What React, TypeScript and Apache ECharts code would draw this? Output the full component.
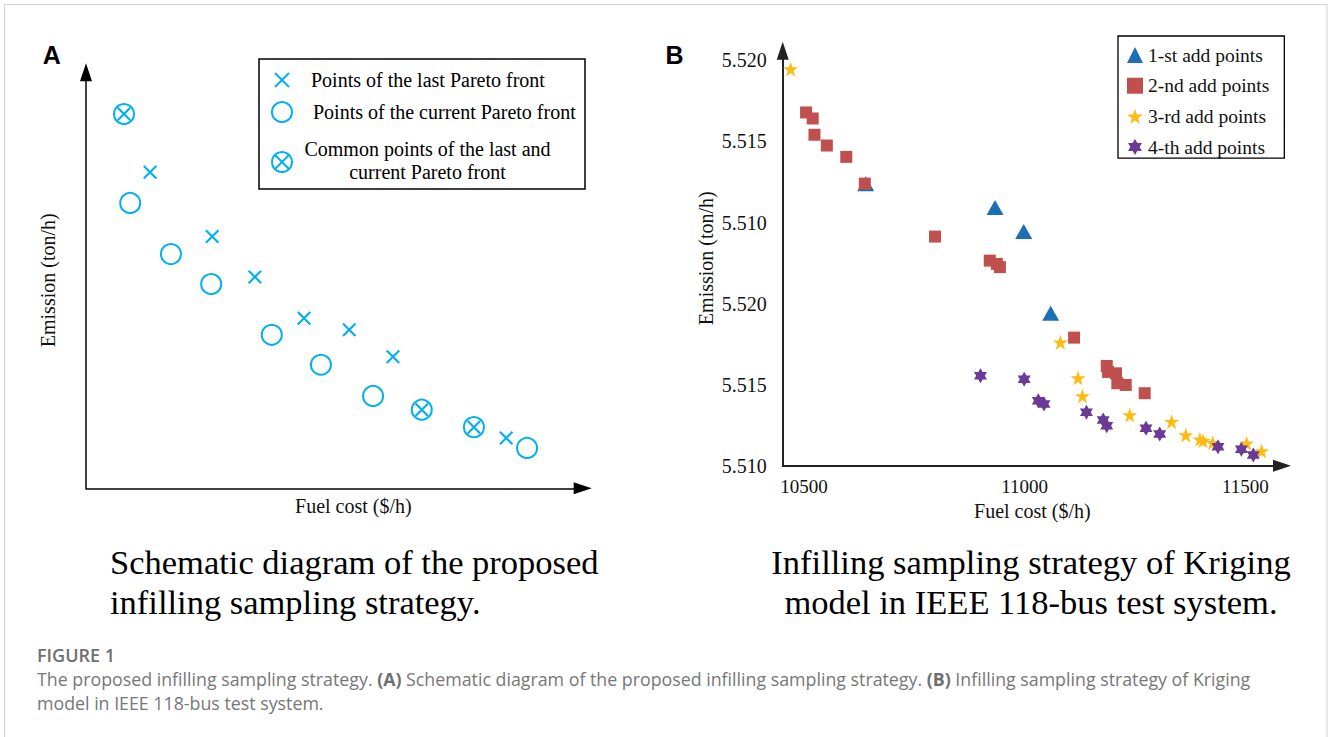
import React, { useEffect, useRef } from "react";
import * as echarts from "echarts";

// ---------- Panel A (schematic, abstract units 0-100) ----------
const lastFrontX = [12.9, 25.4, 34.0, 43.9, 53.0, 61.8, 84.6];
const lastFrontY = [76.0, 60.5, 50.8, 40.9, 38.1, 31.6, 12.1];
const currentFrontX = [8.9, 17.1, 25.2, 37.4, 47.3, 57.8, 88.8];
const currentFrontY = [68.6, 56.3, 49.1, 36.9, 29.7, 22.2, 9.7];
const commonX = [7.65, 67.6, 78.1];
const commonY = [89.97, 18.9, 14.7];

// ---------- Panel B (Kriging infill points) ----------
const xTickValues = [10500, 11000, 11500];
const yTickPositions = [0, 1, 2, 3, 4, 5];
const yTickLabels = ["5.510", "5.515", "5.520", "5.510", "5.515", "5.520"];

const firstAddX = [10640, 10933, 10998, 11059];
const firstAddY = [3.48, 3.185, 2.89, 1.88];
const secondAddX = [10505, 10520, 10524, 10552, 10596, 10638, 10797, 10921, 10937, 10944, 11112, 11186, 11189, 11207, 11210, 11229, 11272];
const secondAddY = [4.358, 4.284, 4.083, 3.95, 3.81, 3.48, 2.827, 2.53, 2.49, 2.45, 1.58, 1.23, 1.157, 1.14, 1.017, 0.996, 0.894];
const thirdAddX = [10470, 11081, 11121, 11131, 11238, 11333, 11365, 11397, 11404, 11426, 11503, 11537];
const thirdAddY = [4.894, 1.523, 1.083, 0.86, 0.626, 0.543, 0.379, 0.326, 0.309, 0.284, 0.276, 0.181];
const fourthAddX = [10900, 10999, 11031, 11044, 11140, 11178, 11186, 11275, 11306, 11438, 11491, 11518];
const fourthAddY = [1.111, 1.067, 0.8, 0.762, 0.659, 0.564, 0.494, 0.462, 0.391, 0.235, 0.202, 0.132];

const seriesNamesB = ["1-st add points", "2-nd add points", "3-rd add points", "4-th add points"];

const zip = (xs: number[], ys: number[]) => xs.map((x, i) => [x, ys[i]]);

const CYAN = "#00b0f0";
const BLUE = "#1c6fb7";
const RED = "#c0504d";
const GOLD = "#ffbb12";
const PURPLE = "#6b3a96";
const SERIF = "'Liberation Serif', 'Times New Roman', serif";
const SANS = "'Open Sans', 'Liberation Sans', sans-serif";

const CROSS = "path://M0,1.5L1.5,0L14,12.5L12.5,14Z M12.5,0L14,1.5L1.5,14L0,12.5Z";
const STAR = "path://M0,-50L11.23,-15.45L47.55,-15.45L18.16,5.9L29.39,40.45L0,19.1L-29.39,40.45L-18.16,5.9L-47.55,-15.45L-11.23,-15.45Z";
const HEXAGRAM = "path://M0,-50L14.43,-25L43.3,-25L28.87,0L43.3,25L14.43,25L0,50L-14.43,25L-43.3,25L-28.87,0L-43.3,-25L-14.43,-25Z";

const arrowLine = (color: string, width: number) => ({
  show: true,
  onZero: false,
  symbol: ["none", "triangle"],
  symbolSize: [12, 18],
  lineStyle: { color, width },
});

const nameStyle = { fontFamily: SERIF, fontSize: 20, color: "#111" };

const text = (t: string, x: number, y: number, size: number, opts: any = {}) => ({
  type: "text",
  x,
  y,
  silent: true,
  style: {
    text: t,
    fontSize: size,
    fontFamily: opts.family || SERIF,
    fontWeight: opts.weight || "normal",
    fill: opts.fill || "#000",
    align: opts.align || "left",
    verticalAlign: "middle",
    rich: opts.rich,
  },
});

const crossIcon = (cx: number, cy: number, h: number) => [
  { type: "line", silent: true, shape: { x1: cx - h, y1: cy - h, x2: cx + h, y2: cy + h }, style: { stroke: CYAN, lineWidth: 2 } },
  { type: "line", silent: true, shape: { x1: cx + h, y1: cy - h, x2: cx - h, y2: cy + h }, style: { stroke: CYAN, lineWidth: 2 } },
];
const circleIcon = (cx: number, cy: number) => ({
  type: "circle",
  silent: true,
  shape: { cx, cy, r: 10 },
  style: { fill: "none", stroke: CYAN, lineWidth: 2 },
});

const captionRich = {
  b: { fontWeight: "bold", fontSize: 17.8, fontFamily: SANS, fill: "#6f6f6f" },
};

const option: any = {
  animation: false,
  backgroundColor: "#fff",
  grid: [
    { left: 86, right: 745.3, top: 72.3, bottom: 248.7 },
    { left: 782.7, right: 46, top: 50.7, bottom: 271.3 },
  ],
  xAxis: [
    {
      gridIndex: 0,
      type: "value",
      min: 0,
      max: 100,
      axisLine: arrowLine("#000", 1.5),
      axisTick: { show: false },
      axisLabel: { show: false },
      splitLine: { show: false },
      name: "Fuel cost ($/h)",
      nameLocation: "middle",
      nameGap: 8,
      nameTextStyle: { ...nameStyle, padding: [0, 0, 0, 38] },
    },
    {
      gridIndex: 1,
      type: "value",
      min: 10452,
      max: 11583,
      axisLine: arrowLine("#222", 2),
      axisTick: { show: false },
      axisLabel: {
        customValues: xTickValues,
        formatter: (v: number) => String(v),
        fontFamily: SERIF,
        fontSize: 19,
        color: "#111",
        margin: 11,
      },
      splitLine: { show: false },
      name: "Fuel cost ($/h)",
      nameLocation: "middle",
      nameGap: 32,
      nameTextStyle: nameStyle,
    },
  ],
  yAxis: [
    {
      gridIndex: 0,
      type: "value",
      min: 0,
      max: 100,
      axisLine: arrowLine("#000", 1.5),
      axisTick: { show: false },
      axisLabel: { show: false },
      splitLine: { show: false },
      name: "Emission (ton/h)",
      nameLocation: "middle",
      nameRotate: 90,
      nameGap: 28,
      nameTextStyle: { ...nameStyle, padding: [0, 0, 0, 0] },
    },
    {
      gridIndex: 1,
      type: "value",
      min: 0,
      max: 5.12,
      axisLine: arrowLine("#222", 2),
      axisTick: { show: false },
      axisLabel: {
        customValues: yTickPositions,
        formatter: (v: number) => yTickLabels[Math.round(v)] ?? "",
        fontFamily: SERIF,
        fontSize: 20,
        color: "#111",
        margin: 16,
      },
      splitLine: { show: false },
      name: "Emission (ton/h)",
      nameLocation: "middle",
      nameRotate: 90,
      nameGap: 67,
      nameTextStyle: nameStyle,
    },
  ],
  legend: {
    data: seriesNamesB,
    orient: "vertical",
    left: 1118,
    top: 36,
    padding: [9, 15, 1, 9],
    itemGap: 10.7,
    itemWidth: 16,
    itemHeight: 16,
    borderColor: "#000",
    borderWidth: 1.3,
    selectedMode: false,
    textStyle: { fontFamily: SERIF, fontSize: 19.5, color: "#111" },
  },
  series: [
    {
      name: "Points of the last Pareto front",
      type: "scatter",
      xAxisIndex: 0,
      yAxisIndex: 0,
      symbol: CROSS,
      symbolSize: 14,
      itemStyle: { color: CYAN, opacity: 1 },
      data: zip(lastFrontX, lastFrontY),
    },
    {
      name: "Points of the current Pareto front",
      type: "scatter",
      xAxisIndex: 0,
      yAxisIndex: 0,
      symbol: "circle",
      symbolSize: 20,
      itemStyle: { color: "rgba(255,255,255,0)", borderColor: CYAN, borderWidth: 2, opacity: 1 },
      data: zip(currentFrontX, currentFrontY),
    },
    {
      name: "Common points (circle)",
      type: "scatter",
      xAxisIndex: 0,
      yAxisIndex: 0,
      symbol: "circle",
      symbolSize: 20,
      itemStyle: { color: "rgba(255,255,255,0)", borderColor: CYAN, borderWidth: 2, opacity: 1 },
      data: zip(commonX, commonY),
    },
    {
      name: "Common points (cross)",
      type: "scatter",
      xAxisIndex: 0,
      yAxisIndex: 0,
      symbol: CROSS,
      symbolSize: 14,
      itemStyle: { color: CYAN, opacity: 1 },
      data: zip(commonX, commonY),
    },
    {
      name: seriesNamesB[0],
      type: "scatter",
      xAxisIndex: 1,
      yAxisIndex: 1,
      symbol: "triangle",
      symbolSize: [17, 15],
      itemStyle: { color: BLUE, opacity: 1 },
      data: zip(firstAddX, firstAddY),
    },
    {
      name: seriesNamesB[1],
      type: "scatter",
      xAxisIndex: 1,
      yAxisIndex: 1,
      symbol: "rect",
      symbolSize: 12,
      itemStyle: { color: RED, opacity: 1 },
      data: zip(secondAddX, secondAddY),
    },
    {
      name: seriesNamesB[2],
      type: "scatter",
      xAxisIndex: 1,
      yAxisIndex: 1,
      symbol: STAR,
      symbolSize: 15,
      itemStyle: { color: GOLD, opacity: 1 },
      data: zip(thirdAddX, thirdAddY),
    },
    {
      name: seriesNamesB[3],
      type: "scatter",
      xAxisIndex: 1,
      yAxisIndex: 1,
      symbol: HEXAGRAM,
      symbolSize: [13, 15],
      itemStyle: { color: PURPLE, opacity: 1 },
      data: zip(fourthAddX, fourthAddY),
    },
  ],
  graphic: {
    elements: [
      {
        type: "rect",
        silent: true,
        shape: { x: 4.5, y: 4.5, width: 1322.5, height: 800 },
        style: { fill: "none", stroke: "#d2d2d2", lineWidth: 1 },
      },
      text("A", 51.7, 55, 25, { family: "'Liberation Sans', Arial, sans-serif", weight: "bold", align: "center" }),
      text("B", 674.5, 55, 25, { family: "'Liberation Sans', Arial, sans-serif", weight: "bold", align: "center" }),
      // Panel A legend
      {
        type: "rect",
        silent: true,
        shape: { x: 259, y: 59, width: 326, height: 130 },
        style: { fill: "#fff", stroke: "#000", lineWidth: 1.5 },
      },
      ...crossIcon(282, 80, 7),
      circleIcon(282, 112),
      circleIcon(282, 162),
      ...crossIcon(282, 162, 7),
      text("Points of the last Pareto front", 311, 80, 20),
      text("Points of the current Pareto front", 313, 112, 20),
      text("Common points of the last and", 427.5, 149, 20, { align: "center" }),
      text("current Pareto front", 427.5, 172, 20, { align: "center" }),
      // Sub-titles
      text("Schematic diagram of the proposed", 110, 561.7, 34.5),
      text("infilling sampling strategy.", 110, 601.7, 34.5),
      text("Infilling sampling strategy of Kriging", 1031, 561.7, 34.5, { align: "center" }),
      text("model in IEEE 118-bus test system.", 1031, 601.7, 34.5, { align: "center" }),
      // Caption
      text("FIGURE 1", 37, 655, 18, { family: SANS, weight: 600, fill: "#6f6f6f" }),
      text(
        "The proposed infilling sampling strategy. {b|(A)} Schematic diagram of the proposed infilling sampling strategy. {b|(B)} Infilling sampling strategy of Kriging",
        37,
        679,
        17.8,
        { family: SANS, fill: "#777", rich: captionRich }
      ),
      text("model in IEEE 118-bus test system.", 37, 703, 17.8, { family: SANS, fill: "#777" }),
    ],
  },
};

export default function App() {
  const ref = useRef<HTMLDivElement>(null);
  useEffect(() => {
    if (!ref.current) return;
    const chart = echarts.init(ref.current, null, { renderer: "svg" });
    chart.setOption(option);
    return () => chart.dispose();
  }, []);
  return (
    <div
      ref={ref}
      style={{ position: "absolute", left: 0, top: 0, width: 1328, height: 737, background: "#fff" }}
    />
  );
}
